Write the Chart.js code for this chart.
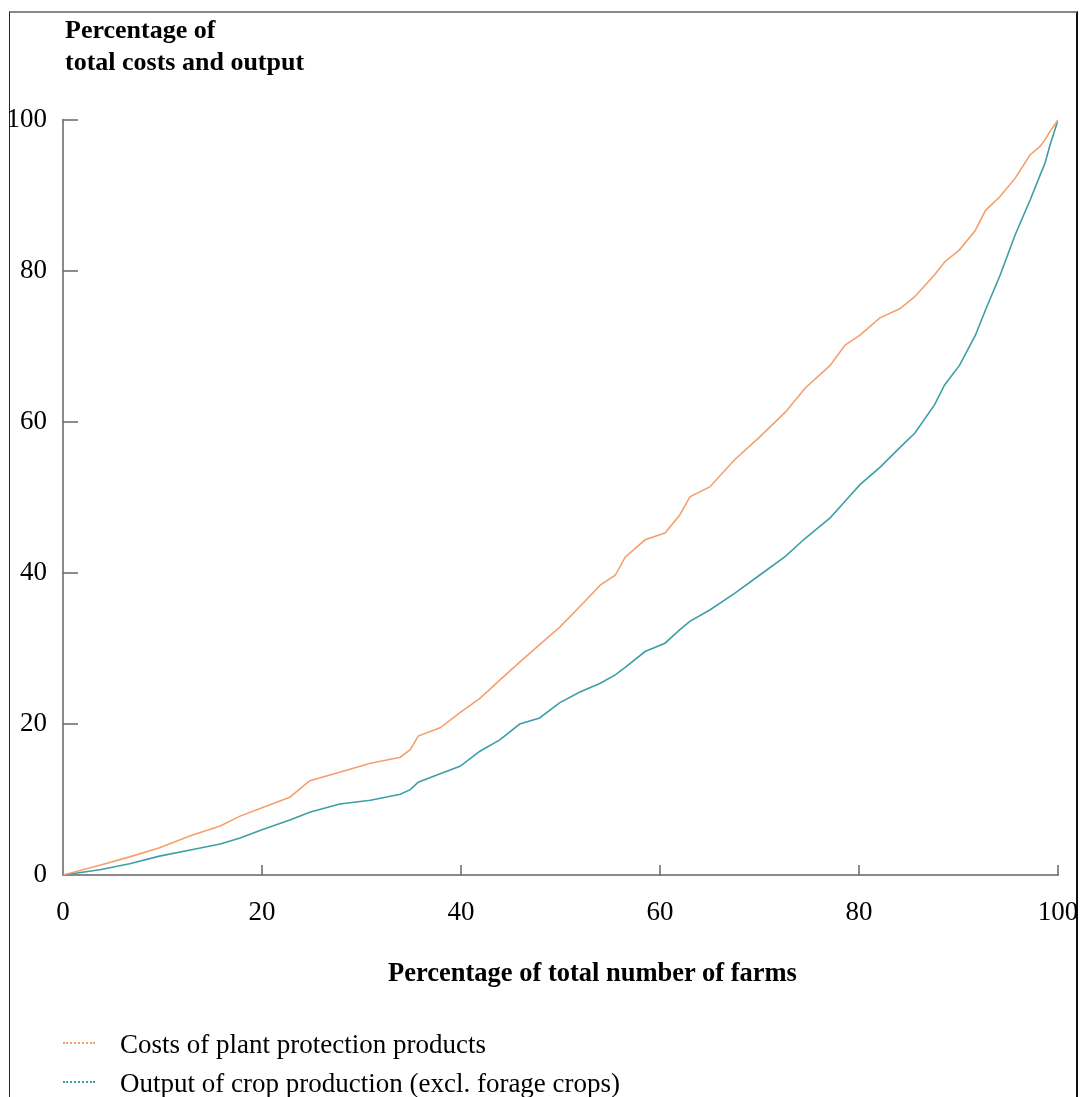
<!DOCTYPE html>
<html>
<head>
<meta charset="utf-8">
<script src="https://cdn.jsdelivr.net/npm/chart.js@4"></script>
<style>
body{margin:0;width:1080px;height:1097px;overflow:hidden;background:#fff;font-family:"Liberation Serif","DejaVu Serif",serif;color:#000}
#frame{position:absolute;left:9px;top:11px;width:1066px;height:1100px;border-top:2px solid #888;border-left:1px solid #222;border-right:2px solid #111}
#wrap{position:absolute;left:0;top:0;width:1080px;height:1097px}
.ttl{position:absolute;font-weight:bold;font-size:26px;line-height:30px;white-space:nowrap}
.leg{position:absolute;left:120px;font-size:27px;line-height:30px;white-space:nowrap}
.mark{position:absolute;left:63px;width:32px;border-top:2px dotted}
</style>
</head>
<body>
<div id="frame"></div>
<div id="wrap"><canvas id="lorenzChart" width="1080" height="1097"></canvas></div>

<div class="ttl" style="left:65px;top:15px">Percentage of</div>
<div class="ttl" style="left:65px;top:47px">total costs and output</div>
<div class="ttl" style="left:388px;top:957px;font-size:26.5px">Percentage of total number of farms</div>

<div class="mark" style="top:1042px;border-color:#f4a06c"></div>
<div class="leg" style="top:1029px">Costs of plant protection products</div>
<div class="mark" style="top:1081px;border-color:#3e9ea6"></div>
<div class="leg" style="top:1068px">Output of crop production (excl. forage crops)</div>

<script>
// cumulative share of farms (x)
const farmShare = [0, 3.7, 6.7, 9.7, 12.8, 15.8, 17.8, 20, 22.8, 24.8, 27.8, 30.9, 33.9, 34.9, 35.7, 37.9, 39.9, 41.9, 43.9, 45.9, 47.9, 49.9, 51.9, 54, 55.5, 56.5, 58.5, 60.5, 62, 63, 65, 67.5, 70, 72.6, 74.6, 77.1, 78.6, 80.1, 82.1, 84.1, 85.6, 87.6, 88.6, 90.1, 91.7, 92.7, 94.2, 95.7, 97.2, 98.2, 98.7, 99.2, 100];

// Costs of plant protection products
const costShare = [0, 1.3, 2.4, 3.6, 5.2, 6.5, 7.8, 8.9, 10.3, 12.5, 13.6, 14.8, 15.6, 16.6, 18.4, 19.5, 21.5, 23.4, 25.8, 28.2, 30.5, 32.8, 35.5, 38.4, 39.7, 42.1, 44.4, 45.3, 47.7, 50.1, 51.4, 55, 58, 61.3, 64.5, 67.5, 70.2, 71.5, 73.8, 75, 76.6, 79.5, 81.2, 82.8, 85.4, 88, 89.9, 92.3, 95.4, 96.5, 97.4, 98.5, 100];

// Output of crop production
const outputShare = [0, 0.7, 1.5, 2.5, 3.3, 4.1, 4.9, 6, 7.3, 8.3, 9.4, 9.9, 10.7, 11.3, 12.3, 13.4, 14.4, 16.4, 17.9, 20, 20.8, 22.8, 24.2, 25.4, 26.5, 27.5, 29.6, 30.7, 32.5, 33.6, 35.1, 37.3, 39.7, 42.2, 44.6, 47.3, 49.5, 51.7, 54, 56.6, 58.5, 62.3, 64.9, 67.5, 71.5, 74.8, 79.5, 84.8, 89.4, 92.7, 94.3, 96.7, 100];

const tickValues = [0, 20, 40, 60, 80, 100];

const tickFont = {family:"Liberation Serif", size:27};

// small inward tick marks
const tickMarks = {
    id:"tickMarks",
    afterDraw(chart){
        const ctx = chart.ctx;
        const xs = chart.scales.x, ys = chart.scales.y;
        ctx.save();
        ctx.strokeStyle = "#666";
        ctx.lineWidth = 1.5;
        tickValues.slice(1).forEach(v => {
            const px = xs.getPixelForValue(v);
            ctx.beginPath();
            ctx.moveTo(px, ys.bottom);
            ctx.lineTo(px, ys.bottom - 10);
            ctx.stroke();
            const py = ys.getPixelForValue(v);
            ctx.beginPath();
            ctx.moveTo(xs.left, py);
            ctx.lineTo(xs.left + 15, py);
            ctx.stroke();
        });
        ctx.restore();
    }
};

new Chart(
document.getElementById("lorenzChart"),
{
    type:"line",
    data:{
        datasets:[{
            label:"Costs of plant protection products",
            data:farmShare.map((x, i) => ({x:x, y:costShare[i]})),
            borderColor:"#f4a06c",
            borderWidth:1.6,
            pointRadius:0,
            tension:0
        },{
            label:"Output of crop production (excl. forage crops)",
            data:farmShare.map((x, i) => ({x:x, y:outputShare[i]})),
            borderColor:"#3e9ea6",
            borderWidth:1.6,
            pointRadius:0,
            tension:0
        }]
    },
    options:{
        responsive:false,
        animation:false,
        layout:{padding:{left:0, right:22, top:120, bottom:0}},
        plugins:{legend:{display:false}, tooltip:{enabled:false}},
        scales:{
            x:{
                type:"linear",
                min:0,
                max:100,
                afterFit(scale){
                    scale.height = 222;
                    scale.paddingLeft = 0;
                    scale.paddingRight = 0;
                },
                afterBuildTicks(scale){ scale.ticks = tickValues.map(v => ({value:v})); },
                ticks:{font:tickFont, color:"#000", padding:22, maxRotation:0},
                grid:{display:false, drawTicks:false},
                border:{display:true, color:"#8a8a8a", width:2, dash:[2,2]}
            },
            y:{
                type:"linear",
                min:0,
                max:100,
                afterFit(scale){
                    scale.width = 63;
                    scale.paddingTop = 0;
                    scale.paddingBottom = 0;
                },
                afterBuildTicks(scale){ scale.ticks = tickValues.map(v => ({value:v})); },
                ticks:{font:tickFont, color:"#000", padding:16},
                grid:{display:false, drawTicks:false},
                border:{display:true, color:"#8a8a8a", width:2, dash:[2,2]}
            }
        }
    },
    plugins:[tickMarks]
});
</script>
</body>
</html>
